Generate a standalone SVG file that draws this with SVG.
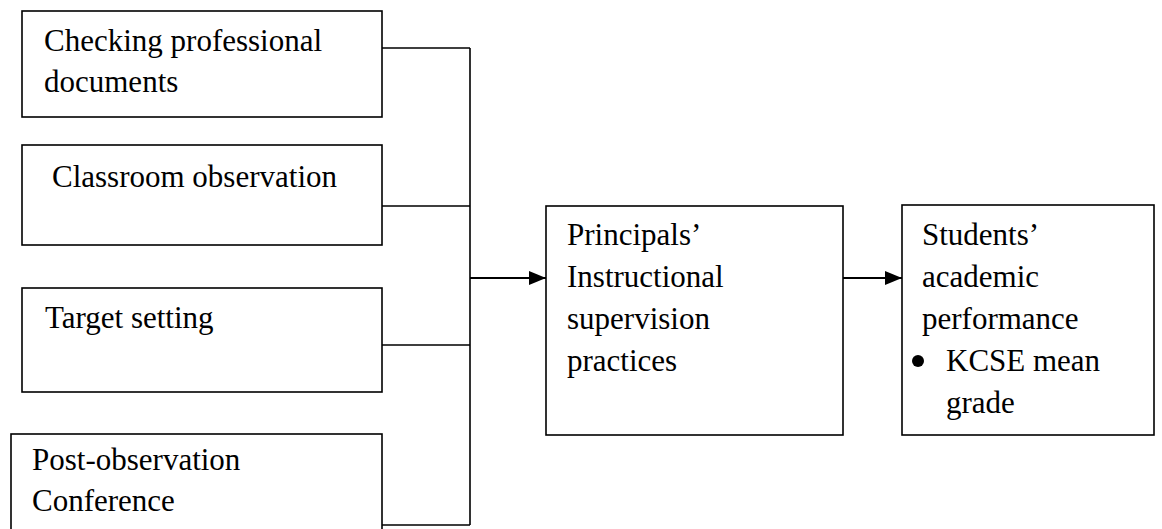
<svg xmlns="http://www.w3.org/2000/svg" width="1162" height="529" viewBox="0 0 1162 529">
<style>
.box{fill:#fff;stroke:#000;stroke-width:1.6}
.t{font-family:"Liberation Serif","Times New Roman",serif;font-size:31px;fill:#000}
.c{fill:none;stroke:#000;stroke-width:1.6}
.a{fill:none;stroke:#000;stroke-width:2.2}
</style>
<defs>
<marker id="arr" markerWidth="17" markerHeight="14" refX="17" refY="7" orient="auto" markerUnits="userSpaceOnUse">
<path d="M0,0 L17,7 L0,14 Z" fill="#000"/>
</marker>
</defs>
<rect width="1162" height="529" fill="#fff"/>
<g id="n1">
<rect class="box" x="22" y="11" width="360" height="106"/>
<text class="t" x="44" y="51">Checking professional</text>
<text class="t" x="44" y="92">documents</text>
</g>
<g id="n2">
<rect class="box" x="22" y="145" width="360" height="100"/>
<text class="t" x="52" y="187">Classroom observation</text>
</g>
<g id="n3">
<rect class="box" x="22" y="288" width="360" height="104"/>
<text class="t" x="45" y="328">Target setting</text>
</g>
<g id="n4">
<rect class="box" x="11" y="434" width="371" height="110"/>
<text class="t" x="32" y="470">Post-observation</text>
<text class="t" x="32" y="511">Conference</text>
</g>
<g id="n5">
<rect class="box" x="546" y="206" width="297" height="229"/>
<text class="t" x="567" y="245">Principals’</text>
<text class="t" x="567" y="287">Instructional</text>
<text class="t" x="567" y="329">supervision</text>
<text class="t" x="567" y="371">practices</text>
</g>
<g id="n6">
<rect class="box" x="902" y="205" width="252" height="230"/>
<text class="t" x="922" y="245">Students’</text>
<text class="t" x="922" y="287">academic</text>
<text class="t" x="922" y="329">performance</text>
<circle cx="918" cy="361" r="6"/>
<text class="t" x="946" y="371">KCSE mean</text>
<text class="t" x="946" y="413">grade</text>
</g>
<g id="connectors">
<path class="c" d="M382,48 H470 M382,206 H470 M382,345 H470 M382,525 H470 M470,48 V525"/>
<path class="a" d="M470,278 H546" marker-end="url(#arr)"/>
<path class="a" d="M843,278 H902" marker-end="url(#arr)"/>
</g>
</svg>
